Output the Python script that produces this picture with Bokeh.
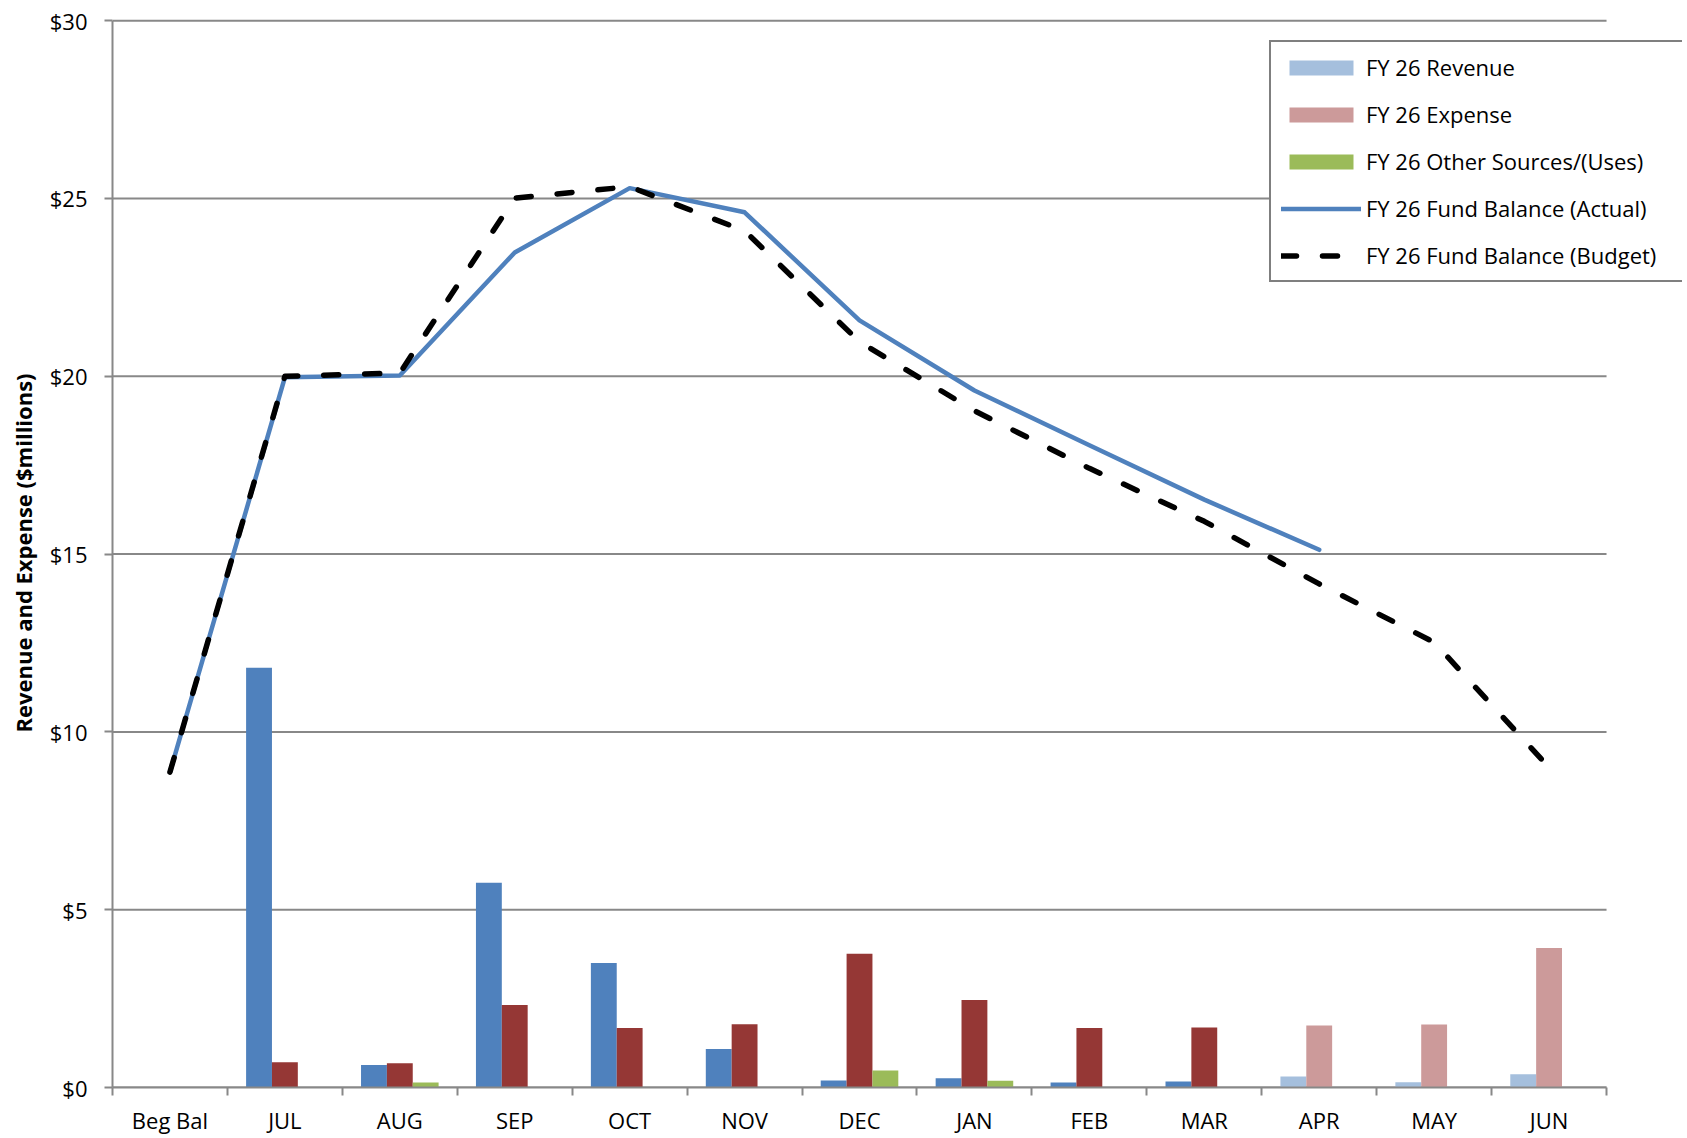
from bokeh.plotting import figure
from bokeh.models import (ColumnDataSource, FixedTicker, NumeralTickFormatter,
                          Legend, LegendItem, Range1d)
from bokeh.transform import dodge
from bokeh.embed import file_html
from bokeh.resources import INLINE

# ---------------- data ----------------
categories = ["Beg Bal", "JUL", "AUG", "SEP", "OCT", "NOV", "DEC",
              "JAN", "FEB", "MAR", "APR", "MAY", "JUN"]
revenue = [0.0, 11.80, 0.63, 5.76, 3.50, 1.08, 0.20, 0.26, 0.14, 0.17, 0.31, 0.15, 0.37]
expense = [0.0, 0.71, 0.68, 2.32, 1.67, 1.78, 3.76, 2.46, 1.67, 1.69, 1.74, 1.77, 3.92]
other_sources = [0.0, 0.0, 0.14, 0.0, 0.0, 0.0, 0.48, 0.19, 0.0, 0.0, 0.0, 0.0, 0.0]
fund_actual = [8.87, 19.97, 20.02, 23.48, 25.29, 24.61, 21.57, 19.60, 18.06, 16.53, 15.12]
fund_budget = [8.87, 20.00, 20.09, 25.01, 25.33, 24.09, 20.97, 19.03, 17.41, 15.92, 14.16, 12.52, 9.00]
n_actual = 10          # Beg Bal .. MAR are actuals, APR .. JUN are projections
y_ticks = [0, 5, 10, 15, 20, 25, 30]

# ---------------- sources ----------------
n = len(categories)
xs = list(range(n))
src_act = ColumnDataSource(dict(x=xs[:n_actual], rev=revenue[:n_actual], exp=expense[:n_actual]))
src_fc = ColumnDataSource(dict(x=xs[n_actual:], rev=revenue[n_actual:], exp=expense[n_actual:]))
src_oth = ColumnDataSource(dict(x=xs, oth=other_sources))
src_fa = ColumnDataSource(dict(x=xs[:len(fund_actual)], y=fund_actual))
src_fb = ColumnDataSource(dict(x=xs, y=fund_budget))
src_grid = ColumnDataSource(dict(y=y_ticks))

FONT = "Open Sans"
GRID = "#888888"

# frame extends a little past the last category so the legend (which overhangs
# the plotting area in the original) is not clipped
x_end = 13.161
p = figure(width=1685, height=1137,
           x_range=Range1d(-0.5, x_end), y_range=Range1d(0, 30.06),
           output_backend="svg", toolbar_location=None,
           min_border_left=112, min_border_right=3, min_border_top=18, min_border_bottom=50)

# horizontal grid lines spanning only the category area
p.segment(x0=-0.5, x1=n - 0.5, y0="y", y1="y", source=src_grid,
          line_color=GRID, line_width=2)

BW = 0.225
r_rev_a = p.vbar(x=dodge("x", -BW, range=p.x_range), top="rev", width=BW, source=src_act,
                 fill_color="#4F81BD", line_color=None)
r_exp_a = p.vbar(x=dodge("x", 0, range=p.x_range), top="exp", width=BW, source=src_act,
                 fill_color="#953735", line_color=None)
r_rev_f = p.vbar(x=dodge("x", -BW, range=p.x_range), top="rev", width=BW, source=src_fc,
                 fill_color="#A5BFDD", line_color=None)
r_exp_f = p.vbar(x=dodge("x", 0, range=p.x_range), top="exp", width=BW, source=src_fc,
                 fill_color="#CC9A9A", line_color=None)
r_oth = p.vbar(x=dodge("x", BW, range=p.x_range), top="oth", width=BW, source=src_oth,
               fill_color="#9BBB59", line_color=None)

r_fa = p.line("x", "y", source=src_fa, line_color="#4F81BD", line_width=4.5,
              line_join="round", line_cap="round")
r_fb = p.line("x", "y", source=src_fb, line_color="black", line_width=5.5,
              line_dash="15 26", line_cap="round", line_join="round")

# ---------------- axes / grid ----------------
p.outline_line_color = None
p.xgrid.visible = False
p.ygrid.visible = False

ya = p.yaxis[0]
ya.ticker = FixedTicker(ticks=y_ticks)
ya.bounds = (0, 30)
ya.formatter = NumeralTickFormatter(format="$0")
ya.axis_line_color = GRID
ya.axis_line_width = 2
ya.major_tick_line_color = GRID
ya.major_tick_line_width = 2
ya.major_tick_out = 8
ya.major_tick_in = 0
ya.minor_tick_line_color = None
ya.major_label_text_font = FONT
ya.major_label_text_font_size = "22px"
ya.major_label_text_color = "black"
ya.major_label_standoff = 17
ya.axis_label = "Revenue and Expense ($millions)"
ya.axis_label_text_font = FONT
ya.axis_label_text_font_style = "bold"
ya.axis_label_text_font_size = "22px"
ya.axis_label_text_color = "black"
ya.axis_label_standoff = 9

xa = p.xaxis[0]
xa.bounds = (-0.5, n - 0.5)
xa.ticker = FixedTicker(ticks=xs, minor_ticks=[i - 0.5 for i in range(n + 1)])
xa.major_label_overrides = {i: c for i, c in enumerate(categories)}
xa.axis_line_color = GRID
xa.axis_line_width = 2
xa.major_tick_line_color = None
xa.major_tick_out = 0
xa.major_tick_in = 0
xa.minor_tick_line_color = GRID
xa.minor_tick_line_width = 2
xa.minor_tick_out = 8
xa.minor_tick_in = 0
xa.major_label_text_font = FONT
xa.major_label_text_font_size = "22px"
xa.major_label_text_color = "black"
xa.major_label_standoff = 9

# ---------------- legend ----------------
legend = Legend(items=[
    LegendItem(label="FY 26 Revenue", renderers=[r_rev_f]),
    LegendItem(label="FY 26 Expense", renderers=[r_exp_f]),
    LegendItem(label="FY 26 Other Sources/(Uses)", renderers=[r_oth]),
    LegendItem(label="FY 26 Fund Balance (Actual)", renderers=[r_fa]),
    LegendItem(label="FY 26 Fund Balance (Budget)", renderers=[r_fb]),
], location=(1157, 805))
legend.border_line_color = "black"
legend.border_line_width = 2
legend.background_fill_color = "white"
legend.background_fill_alpha = 1
legend.label_text_font = FONT
legend.label_text_font_size = "22px"
legend.label_text_color = "black"
legend.glyph_width = 80
legend.glyph_height = 19
legend.label_height = 29
legend.label_width = 306
legend.spacing = 17
legend.padding = 10
legend.margin = 0
legend.label_standoff = 5
p.add_layout(legend)

open("out.html", "w").write(file_html(p, INLINE))
